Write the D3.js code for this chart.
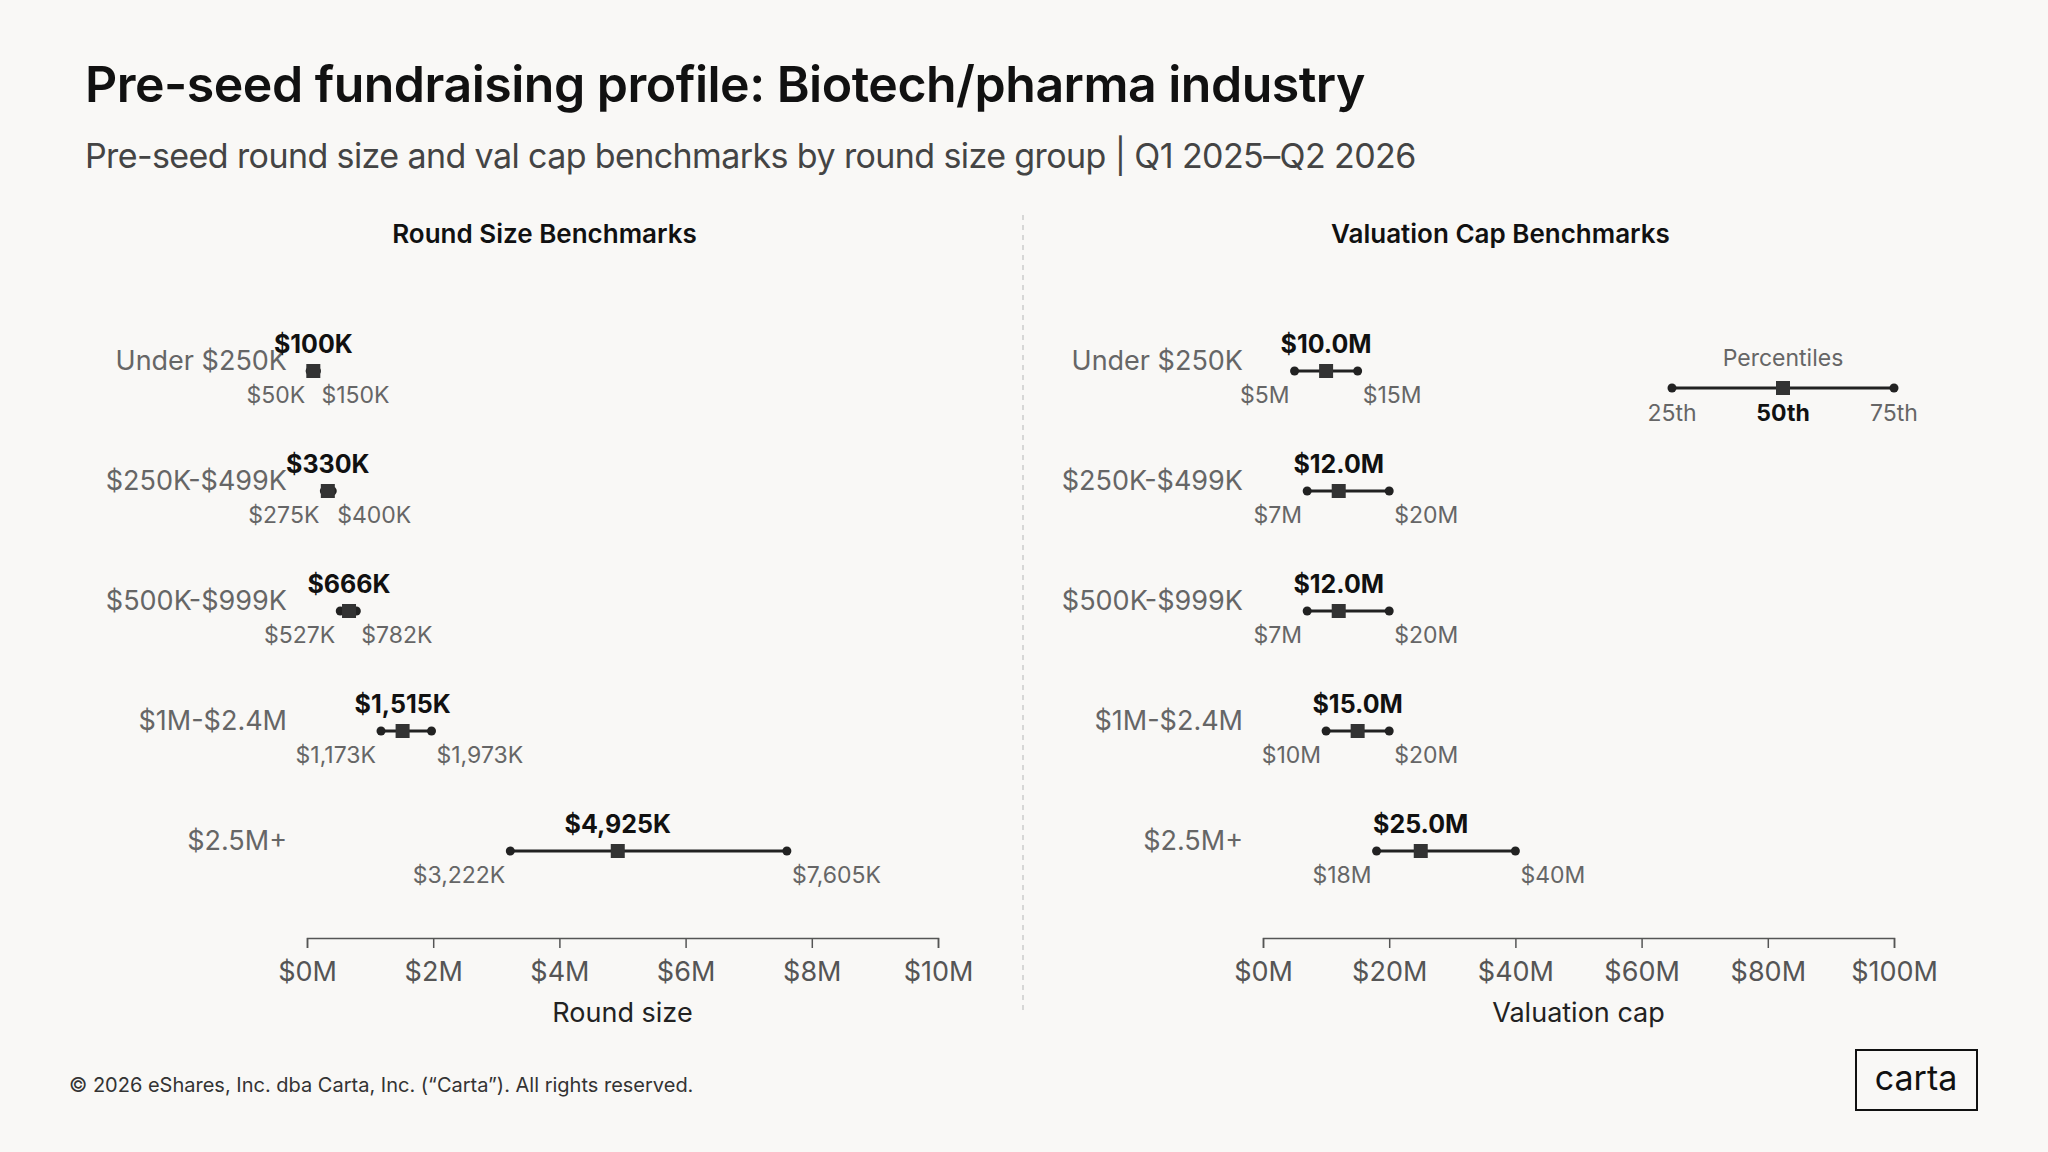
<!DOCTYPE html>
<html><head><meta charset="utf-8">
<script src="https://cdn.jsdelivr.net/npm/d3@7"></script>
<style>body{margin:0;background:#f9f8f6}svg{font-family:Inter,"Open Sans",sans-serif}</style>
</head><body><svg id="c" width="2048" height="1152"></svg>
<script>
const categories=["Under $250K","$250K-$499K","$500K-$999K","$1M-$2.4M","$2.5M+"];
const roundP25=[50,275,527,1173,3222];
const roundP50=[100,330,666,1515,4925];
const roundP75=[150,400,782,1973,7605];
const capP25=[5,7,7,10,18];
const capP50=[10,12,12,15,25];
const capP75=[15,20,20,20,40];
const roundTicks=[0,2,4,6,8,10];
const capTicks=[0,20,40,60,80,100];

const svg=d3.select("#c");
svg.append("rect").attr("width",2048).attr("height",1152).attr("fill","#f9f8f6");
svg.append("text").attr("x",85).attr("y",102).attr("font-size",50).attr("font-weight",600).attr("letter-spacing",-0.5).attr("fill","#111").text("Pre-seed fundraising profile: Biotech/pharma industry");
svg.append("text").attr("x",85).attr("y",168).attr("font-size",34).attr("letter-spacing",-0.6).attr("fill","#444").text("Pre-seed round size and val cap benchmarks by round size group | Q1 2025–Q2 2026");
svg.append("line").attr("x1",1023).attr("x2",1023).attr("y1",215).attr("y2",1012).attr("stroke","#ccc").attr("stroke-dasharray","5,5").attr("stroke-width",1.5);

const y=d3.scalePoint().domain(categories).range([371,851]);
const fmtK=v=>"$"+d3.format(",")(v)+"K";
function panel(title,x0,x1,dom,ticks,tfmt,axTitle,p25,p50,p75,scaleMul,lf,mf){
  const x=d3.scaleLinear().domain(dom).range([x0,x1]);
  svg.append("text").attr("x",(x0+x1)/2-78).attr("y",243).attr("text-anchor","middle").attr("font-size",26).attr("font-weight",600).attr("fill","#111").text(title);
  const ax=svg.append("g").attr("transform","translate(0,938)").call(d3.axisBottom(x).tickValues(ticks).tickFormat(tfmt).tickSize(10).tickPadding(14));
  ax.select(".domain").attr("stroke","#555").attr("stroke-width",1.5);
  ax.selectAll(".tick line").attr("stroke","#555").attr("stroke-width",1.5);
  ax.selectAll("text").attr("font-size",27).attr("fill","#555").attr("font-family","Inter,sans-serif");
  svg.append("text").attr("x",(x0+x1)/2).attr("y",1022).attr("text-anchor","middle").attr("font-size",27).attr("fill","#222").text(axTitle);
  categories.forEach((c,i)=>{
    const yy=y(c);
    const a=x(p25[i]*scaleMul),m=x(p50[i]*scaleMul),b=x(p75[i]*scaleMul);
    svg.append("text").attr("x",x0-20).attr("y",yy-1).attr("text-anchor","end").attr("font-size",27).attr("fill","#666").text(c);
    svg.append("line").attr("x1",a).attr("x2",b).attr("y1",yy).attr("y2",yy).attr("stroke","#222").attr("stroke-width",3);
    [a,b].forEach(p=>svg.append("circle").attr("cx",p).attr("cy",yy).attr("r",4.5).attr("fill","#222"));
    svg.append("rect").attr("x",m-7).attr("y",yy-7).attr("width",14).attr("height",14).attr("fill","#333");
    svg.append("text").attr("x",m).attr("y",yy-18).attr("text-anchor","middle").attr("font-size",25).attr("font-weight",700).attr("fill","#111").text(mf(p50[i]));
    svg.append("text").attr("x",a-5).attr("y",yy+32).attr("text-anchor","end").attr("font-size",23).attr("fill","#666").text(lf(p25[i]));
    svg.append("text").attr("x",b+5).attr("y",yy+32).attr("text-anchor","start").attr("font-size",23).attr("fill","#666").text(lf(p75[i]));
  });
}
panel("Round Size Benchmarks",307,938,[0,10],roundTicks,d=>"$"+d+"M","Round size",roundP25,roundP50,roundP75,0.001,fmtK,fmtK);
panel("Valuation Cap Benchmarks",1263,1894,[0,100],capTicks,d=>"$"+d+"M","Valuation cap",capP25,capP50,capP75,1,d=>"$"+d+"M",d=>"$"+d.toFixed(1)+"M");

const lg=svg.append("g");
lg.append("text").attr("x",1783).attr("y",366).attr("text-anchor","middle").attr("font-size",23).attr("fill","#666").text("Percentiles");
lg.append("line").attr("x1",1672).attr("x2",1894).attr("y1",388).attr("y2",388).attr("stroke","#222").attr("stroke-width",3);
[1672,1894].forEach(p=>lg.append("circle").attr("cx",p).attr("cy",388).attr("r",4.5).attr("fill","#222"));
lg.append("rect").attr("x",1776).attr("y",381).attr("width",14).attr("height",14).attr("fill","#333");
[["25th",1672,400,"#666"],["50th",1783,700,"#111"],["75th",1894,400,"#666"]].forEach(d=>lg.append("text").attr("x",d[1]).attr("y",421).attr("text-anchor","middle").attr("font-size",23).attr("font-weight",d[2]).attr("fill",d[3]).text(d[0]));

svg.append("text").attr("x",69).attr("y",1092).attr("font-size",20).attr("fill","#333").text("© 2026 eShares, Inc. dba Carta, Inc. (“Carta”). All rights reserved.");
svg.append("rect").attr("x",1856).attr("y",1050).attr("width",121).attr("height",60).attr("fill","none").attr("stroke","#111").attr("stroke-width",2);
svg.append("text").attr("x",1916).attr("y",1090).attr("text-anchor","middle").attr("font-size",34).attr("fill","#111").text("carta");
</script></body></html>
